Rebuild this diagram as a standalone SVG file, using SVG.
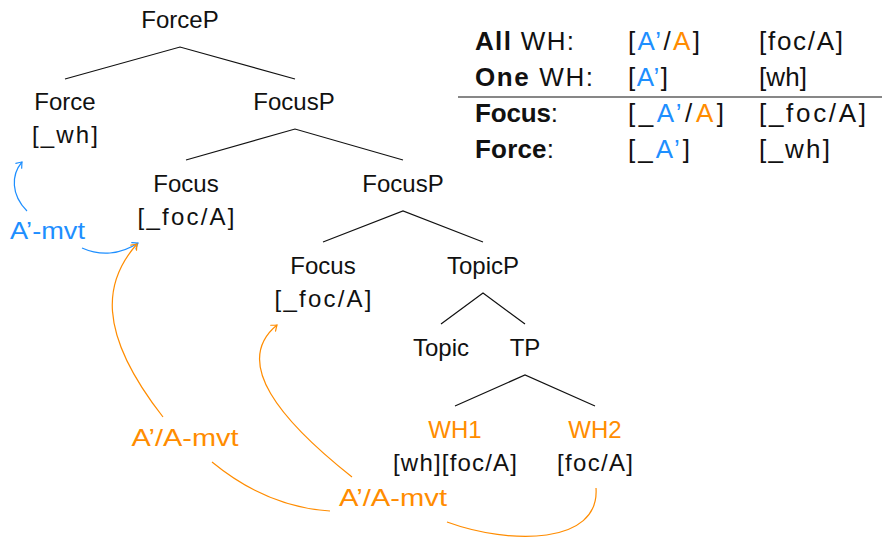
<svg xmlns="http://www.w3.org/2000/svg" width="882" height="538" viewBox="0 0 882 538">
<defs>
<style>
text{font-family:"Liberation Sans",Arial,sans-serif;font-size:24px;fill:#111}
.c{text-anchor:middle}
.tb{font-size:26px}
.b{font-weight:bold}
.bl{fill:#1E8FFF}
.or{fill:#FF8C00}
.edge{stroke:#111;stroke-width:1.2;fill:none}
.mb{stroke:#1E8FFF;stroke-width:1.2;fill:none}
.mo{stroke:#FF8C00;stroke-width:1.2;fill:none}
</style>
<marker id="ab" viewBox="-6 -5 8 10" refX="0" refY="0" markerWidth="8" markerHeight="10" markerUnits="userSpaceOnUse" orient="auto">
<path d="M-5,-3.8 Q-1.5,-1 0,0 Q-1.5,1 -5,3.8" fill="none" stroke="#1E8FFF" stroke-width="1.2" stroke-linecap="round"/>
</marker>
<marker id="ao" viewBox="-6 -5 8 10" refX="0" refY="0" markerWidth="8" markerHeight="10" markerUnits="userSpaceOnUse" orient="auto">
<path d="M-5,-3.8 Q-1.5,-1 0,0 Q-1.5,1 -5,3.8" fill="none" stroke="#FF8C00" stroke-width="1.2" stroke-linecap="round"/>
</marker>
</defs>
<rect width="882" height="538" fill="#fff"/>

<g id="connectors">
<path class="edge" d="M65,79 L180,47 L295,79"/>
<path class="edge" d="M186,160 L295,129 L403,160"/>
<path class="edge" d="M323,242 L403,211 L483,242"/>
<path class="edge" d="M441,324 L483,293 L525,324"/>
<path class="edge" d="M455,406 L525,375 L595,406"/>
<path class="mb" d="M27,211 C11,195 11,175 22,162" marker-end="url(#ab)"/>
<path class="mb" d="M82,248 C100,256 120,255 138,243" marker-end="url(#ab)"/>
<path class="mo" d="M163,417 C95,330 105,280 137,244" marker-end="url(#ao)"/>
<path class="mo" d="M352,477 C280,420 232,362 277,325" marker-end="url(#ao)"/>
<path class="mo" d="M212,462 C240,485 280,508 330,511"/>
<path class="mo" d="M447,522 C510,545 600,545 596,488"/>
</g>

<g id="n-forcep"><text class="c" x="180" y="28">ForceP</text></g>
<g id="n-force"><text class="c" x="65" y="110">Force</text><text class="c" x="65" y="143" textLength="66">[_wh]</text></g>
<g id="n-focusp1"><text class="c" x="294" y="110">FocusP</text></g>
<g id="n-focus1"><text class="c" x="186" y="192">Focus</text><text class="c" x="186" y="225" textLength="97">[_foc/A]</text></g>
<g id="n-focusp2"><text class="c" x="403" y="192">FocusP</text></g>
<g id="n-focus2"><text class="c" x="323" y="274">Focus</text><text class="c" x="323" y="307" textLength="97">[_foc/A]</text></g>
<g id="n-topicp"><text class="c" x="483" y="274">TopicP</text></g>
<g id="n-topic"><text class="c" x="441" y="356">Topic</text></g>
<g id="n-tp"><text class="c" x="525" y="356">TP</text></g>
<g id="n-wh1"><text class="c or" x="455" y="438">WH1</text><text class="c" x="455" y="471" textLength="124">[wh][foc/A]</text></g>
<g id="n-wh2"><text class="c or" x="595" y="438">WH2</text><text class="c" x="595" y="471" textLength="76">[foc/A]</text></g>

<g id="labels">
<text class="c bl" x="47.5" y="239" textLength="75" lengthAdjust="spacingAndGlyphs">A’-mvt</text>
<text class="c or" x="185" y="446" textLength="107" lengthAdjust="spacingAndGlyphs">A’/A-mvt</text>
<text class="c or" x="393" y="506" textLength="108" lengthAdjust="spacingAndGlyphs">A’/A-mvt</text>
</g>

<g id="table">
<line x1="458" y1="97" x2="882" y2="97" stroke="#111" stroke-width="1.2"/>
<text class="tb" x="475" y="50" textLength="99"><tspan class="b">All</tspan> WH:</text>
<text class="tb" x="475" y="86" textLength="118"><tspan class="b">One</tspan> WH:</text>
<text class="tb" x="475" y="122" textLength="83"><tspan class="b">Focus</tspan>:</text>
<text class="tb" x="475" y="158" textLength="79"><tspan class="b">Force</tspan>:</text>
<text class="tb" x="628" y="50" textLength="72">[<tspan class="bl">A’</tspan>/<tspan class="or">A</tspan>]</text>
<text class="tb" x="628" y="86" textLength="40">[<tspan class="bl">A’</tspan>]</text>
<text class="tb" x="628" y="122" textLength="96">[_<tspan class="bl">A’</tspan>/<tspan class="or">A</tspan>]</text>
<text class="tb" x="628" y="158" textLength="62">[_<tspan class="bl">A’</tspan>]</text>
<text class="tb" x="759" y="50" textLength="84">[foc/A]</text>
<text class="tb" x="759" y="86" textLength="48">[wh]</text>
<text class="tb" x="759" y="122" textLength="107">[_foc/A]</text>
<text class="tb" x="759" y="158" textLength="71">[_wh]</text>
</g>
</svg>
